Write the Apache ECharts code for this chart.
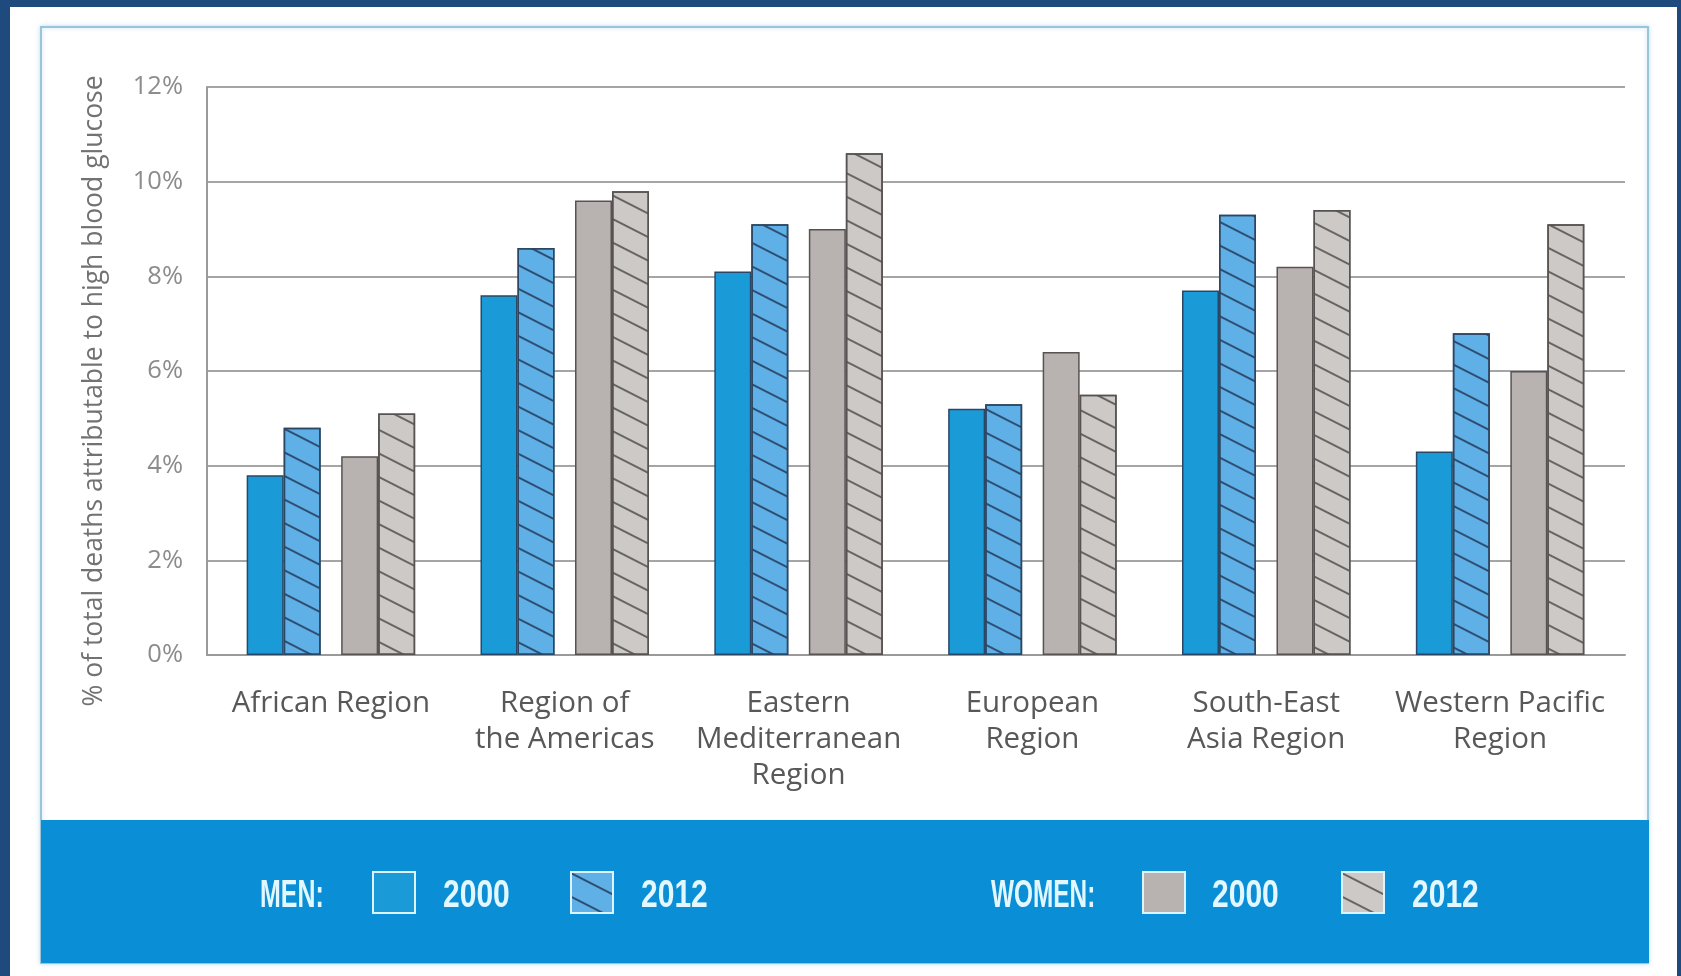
<!DOCTYPE html>
<html>
<head>
<meta charset="utf-8">
<script src="https://cdn.jsdelivr.net/npm/echarts@6/dist/echarts.min.js"></script>
<style>
  html, body { margin: 0; padding: 0; background: #1f4a7d; }
  #chart { width: 1681px; height: 976px; }
</style>
</head>
<body>
<div id="chart"></div>
<script>
// Share of total deaths attributable to high blood glucose, by WHO region
const regions = [
  'African Region',
  'Region of\nthe Americas',
  'Eastern\nMediterranean\nRegion',
  'European\nRegion',
  'South-East\nAsia Region',
  'Western Pacific\nRegion'
];
const men2000   = [3.8, 7.6, 8.1, 5.2, 7.7, 4.3];
const men2012   = [4.8, 8.6, 9.1, 5.3, 9.3, 6.8];
const women2000 = [4.2, 9.6, 9.0, 6.4, 8.2, 6.0];
const women2012 = [5.1, 9.8, 10.6, 5.5, 9.4, 9.1];
const yMin = 0, yMax = 12, yStep = 2;
const yTitle = '% of total deaths attributable to high blood glucose';

const FONT = '"Open Sans", Lato, sans-serif';
const COND = '"Liberation Sans", Arial, sans-serif';

function hatch(color) {
  return {
    symbol: 'rect',
    color: color,
    dashArrayX: [1, 0],
    dashArrayY: [2, 18.5],
    rotation: 27 * Math.PI / 180
  };
}

function barSeries(name, data, fill, border, decalColor) {
  const s = {
    type: 'bar',
    name: name,
    data: data,
    xAxisIndex: 1,
    yAxisIndex: 1,
    barWidth: 37,
    barGap: '0%',
    itemStyle: { color: fill, borderColor: border, borderWidth: 1.5 },
    emphasis: { disabled: true },
    z: 3
  };
  if (decalColor) s.itemStyle.decal = hatch(decalColor);
  return s;
}

// empty column that separates the men pair from the women pair
const spacer = {
  type: 'bar', name: 'spacer', data: [], xAxisIndex: 1, yAxisIndex: 1,
  barWidth: 20.5, barGap: '0%', silent: true
};

function legendBox(name, left) {
  return {
    data: [name], left: left, top: 871, padding: 0, itemGap: 0,
    icon: 'rect', itemWidth: 42, itemHeight: 41, selectedMode: false,
    formatter: function () { return ''; },
    itemStyle: { borderColor: '#dcf4ff', borderWidth: 2 }
  };
}

function legendText(text, left, scale) {
  return {
    type: 'text', x: left, y: 896, scaleX: scale, z: 10,
    style: {
      x: 0, y: 0, text: text, fill: '#e2f7ff',
      font: 'bold 39px ' + COND, textAlign: 'left', textVerticalAlign: 'middle'
    }
  };
}

const chart = echarts.init(document.getElementById('chart'), null, { renderer: 'canvas' });

chart.setOption({
  backgroundColor: '#1f4a7d',
  animation: false,
  graphic: [
    { type: 'rect', z: -20, shape: { x: 10, y: 7, width: 1667, height: 975 }, style: { fill: '#ffffff' } },
    { type: 'rect', z: -19, shape: { x: 41, y: 27, width: 1607, height: 936 },
      style: { fill: '#ffffff', stroke: '#9cc4d8', lineWidth: 2, shadowBlur: 4, shadowColor: 'rgba(150,210,235,0.6)' } },
    { type: 'rect', z: -18, shape: { x: 41, y: 820, width: 1608, height: 143 }, style: { fill: '#0a8fd6' } },
    {
      type: 'text', x: 94, y: 391, rotation: Math.PI / 2, z: 5,
      style: {
        text: yTitle, fill: '#727272', font: '26.5px ' + FONT,
        textAlign: 'center', textVerticalAlign: 'middle'
      }
    },
    legendText('MEN:', 260, 0.64),
    legendText('2000', 443, 0.77),
    legendText('2012', 641, 0.77),
    legendText('WOMEN:', 991, 0.625),
    legendText('2000', 1212, 0.77),
    legendText('2012', 1412, 0.77)
  ],
  legend: [
    legendBox('MEN 2000', 372),
    legendBox('MEN 2012', 570),
    legendBox('WOMEN 2000', 1142),
    legendBox('WOMEN 2012', 1341)
  ],
  grid: [
    // frame carrying the value axis and grid lines
    { left: 207, right: 56, top: 87, bottom: 321, containLabel: false },
    // frame carrying the bar groups and region labels
    { left: 214, right: 64, top: 87, bottom: 321, containLabel: false }
  ],
  xAxis: [
    {
      gridIndex: 0, type: 'category', data: regions,
      axisLine: { show: true, lineStyle: { color: '#9a9a9a', width: 2 } },
      axisTick: { show: false }, axisLabel: { show: false }, splitLine: { show: false }
    },
    {
      gridIndex: 1, type: 'category', data: regions,
      axisLine: { show: false }, axisTick: { show: false },
      axisLabel: {
        interval: 0, margin: 31, color: '#585858',
        fontFamily: FONT, fontSize: 29.5, lineHeight: 36
      }
    }
  ],
  yAxis: [
    {
      gridIndex: 0, type: 'value', min: yMin, max: yMax, interval: yStep,
      axisLine: { show: true, lineStyle: { color: '#9a9a9a', width: 2 } },
      axisTick: { show: false },
      splitLine: { show: true, lineStyle: { color: '#a5a5a5', width: 2 } },
      axisLabel: {
        margin: 24, color: '#8c8c8c', fontFamily: FONT, fontSize: 25.5,
        formatter: '{value}%'
      }
    },
    {
      gridIndex: 1, type: 'value', min: yMin, max: yMax, interval: yStep,
      show: false
    }
  ],
  series: [
    barSeries('MEN 2000', men2000, '#1b9ad8', '#2c4763'),
    barSeries('MEN 2012', men2012, '#5eb0e6', '#2c4763', 'rgba(35,55,85,0.8)'),
    spacer,
    barSeries('WOMEN 2000', women2000, '#b8b3b0', '#575352'),
    barSeries('WOMEN 2012', women2012, '#cdc9c6', '#575352', 'rgba(70,68,66,0.75)')
  ]
});
</script>
</body>
</html>
